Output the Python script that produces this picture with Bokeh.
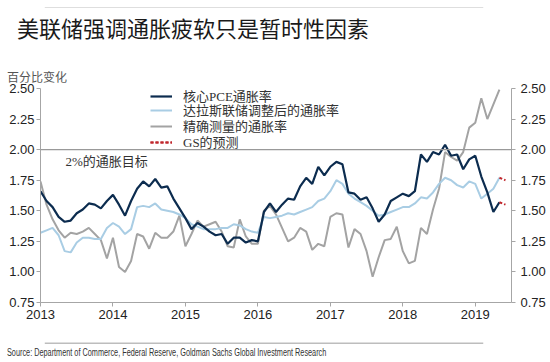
from bokeh.plotting import figure
from bokeh.layouts import column
from bokeh.models import (LinearAxis, FixedTicker, Span, Label, Legend, LegendItem,
                          NumeralTickFormatter, Range1d, Div, BoxAnnotation)
from bokeh.embed import file_html
from bokeh.resources import INLINE

START_YEAR = 2013

title_text = "美联储强调通胀疲软只是暂时性因素"
unit_text = "百分比变化"
target_text = "2%的通胀目标"
source_text = "Source: Department of Commerce, Federal Reserve, Goldman Sachs Global Investment Research"
series_names = ["核心PCE通胀率", "达拉斯联储调整后的通胀率", "精确测量的通胀率", "GS的预测"]

# monthly values, Jan 2013 onwards
core_pce = [1.66, 1.58, 1.53, 1.45, 1.41, 1.42, 1.48, 1.51, 1.56, 1.55, 1.52, 1.58,
            1.63, 1.55, 1.46, 1.58, 1.68, 1.74, 1.70, 1.76, 1.69, 1.70, 1.60, 1.52,
            1.44, 1.35, 1.40, 1.37, 1.33, 1.30, 1.31, 1.23, 1.28, 1.28, 1.24, 1.26,
            1.25, 1.49, 1.56, 1.49, 1.55, 1.60, 1.59, 1.70, 1.77, 1.72, 1.86, 1.79,
            1.86, 1.90, 1.88, 1.65, 1.64, 1.59, 1.61, 1.52, 1.41, 1.47, 1.58, 1.61,
            1.64, 1.62, 1.66, 1.96, 1.90, 1.98, 1.96, 2.04, 1.95, 1.96, 1.84, 1.92,
            1.95, 1.78, 1.65, 1.49, 1.57]
dallas_trimmed = [1.32, 1.34, 1.36, 1.30, 1.17, 1.16, 1.24, 1.28, 1.28, 1.27, 1.27, 1.36,
                  1.40, 1.37, 1.31, 1.35, 1.53, 1.54, 1.53, 1.56, 1.51, 1.50, 1.49, 1.47,
                  1.44, 1.39, 1.37, 1.35, 1.35, 1.35, 1.36, 1.36, 1.39, 1.38, 1.35, 1.33,
                  1.32, 1.45, 1.44, 1.45, 1.46, 1.48, 1.47, 1.49, 1.51, 1.53, 1.58, 1.60,
                  1.66, 1.75, 1.72, 1.64, 1.60, 1.57, 1.54, 1.50, 1.46, 1.47, 1.49, 1.51,
                  1.53, 1.53, 1.56, 1.61, 1.60, 1.65, 1.72, 1.77, 1.75, 1.71, 1.69, 1.74,
                  1.72, 1.60, 1.64, 1.68, 1.77]
precise_measure = [1.74, 1.55, 1.43, 1.34, 1.28, 1.32, 1.31, 1.33, 1.36, 1.31, 1.26, 1.11,
                   1.28, 1.04, 1.00, 1.09, 1.31, 1.29, 1.19, 1.32, 1.28, 1.28, 1.33, 1.46,
                   1.21, 1.31, 1.42, 1.37, 1.39, 1.41, 1.33, 1.21, 1.20, 1.43, 1.29, 1.23,
                   1.23, 1.50, 1.54, 1.47, 1.36, 1.25, 1.28, 1.36, 1.33, 1.18, 1.23, 1.21,
                   1.45, 1.48, 1.47, 1.20, 1.35, 1.31, 1.17, 0.96, 1.12, 1.26, 1.27, 1.37,
                   1.17, 1.07, 1.09, 1.36, 1.31, 1.51, 1.68, 1.98, 1.94, 1.91, 1.98, 2.18,
                   2.22, 2.42, 2.25, 2.37, 2.49]
gs_forecast_core = [1.57, 1.55]
gs_forecast_dallas = [1.77, 1.75]

year_ticks = [2013, 2014, 2015, 2016, 2017, 2018, 2019]
y_ticks = [0.75, 1.00, 1.25, 1.50, 1.75, 2.00, 2.25, 2.50]
target = 2.0

x = [START_YEAR + m / 12 for m in range(len(core_pce))]
fx = [x[-1], START_YEAR + len(core_pce) / 12]

p = figure(width=550, height=248, output_backend="svg", toolbar_location=None,
           x_range=Range1d(2013, 2019.5), y_range=Range1d(0.75, 2.5),
           min_border_left=40, min_border_right=39, min_border_top=6, min_border_bottom=28,
           background_fill_color="white", border_fill_color="white", margin=0)
p.outline_line_color = None
p.grid.visible = False

axis_color = "#a6a6a6"
p.xaxis.ticker = FixedTicker(ticks=year_ticks)
p.yaxis.ticker = FixedTicker(ticks=y_ticks)
p.yaxis.formatter = NumeralTickFormatter(format="0.00")
right = LinearAxis(ticker=FixedTicker(ticks=y_ticks), formatter=NumeralTickFormatter(format="0.00"))
p.add_layout(right, "right")
for ax in [p.xaxis[0], p.yaxis[0], right]:
    ax.axis_line_color = axis_color
    ax.major_tick_line_color = axis_color
    ax.minor_tick_line_color = None
    ax.major_tick_in = 0
    ax.major_tick_out = 4
    ax.major_label_text_font = "Liberation Sans"
    ax.major_label_text_font_size = "13px"
    ax.major_label_text_color = "#222222"
p.xaxis.major_label_standoff = 3
p.yaxis[0].major_label_standoff = 2
right.major_label_standoff = 5

p.add_layout(Span(location=target, dimension="width", line_color="#999999", line_width=1.2))

r_grey = p.line(x, precise_measure, line_color="#a3a3a3", line_width=2)
r_light = p.line(x, dallas_trimmed, line_color="#a9cde4", line_width=2)
r_dark = p.line(x, core_pce, line_color="#0c2c4f", line_width=2.2)
r_f1 = p.line(fx, gs_forecast_core, line_color="#c0272d", line_width=2, line_dash="3 2")
r_f2 = p.line(fx, gs_forecast_dallas, line_color="#c0272d", line_width=2, line_dash="3 2")

mix_font = "Liberation Serif, Noto Sans CJK SC"
legend_rows = [(series_names[0], [r_dark], 197),
               (series_names[1], [r_light], 183),
               (series_names[2], [r_grey], 167),
               (series_names[3], [r_f1, r_f2], 151)]
for label, rs, ypos in legend_rows:
    lg = Legend(items=[LegendItem(label=label, renderers=rs)],
                location=(110, ypos), label_text_font_size="13px", label_text_font=mix_font,
                label_text_color="#333333", glyph_width=22, glyph_height=14, label_height=14,
                label_standoff=11, spacing=0, padding=0, margin=0,
                border_line_color=None, background_fill_alpha=0)
    p.add_layout(lg)

p.add_layout(Label(x=2013.345, y=1.903, text=target_text, text_font=mix_font,
                   text_font_size="13px", text_color="#333333", text_baseline="middle"))


def rule_figure(h, y_from_top):
    f = figure(width=550, height=h, output_backend="svg", toolbar_location=None,
               x_range=Range1d(0, 550), y_range=Range1d(0, h), min_border=0,
               x_axis_location=None, y_axis_location=None, margin=0,
               background_fill_color="white", border_fill_color="white")
    f.outline_line_color = None
    f.grid.visible = False
    f.add_layout(BoxAnnotation(left=5, right=517, top=h - y_from_top,
                               bottom=h - y_from_top - 1.6, fill_color="#bdbdbd",
                               fill_alpha=1, line_color=None))
    return f


top_rule = rule_figure(8, 3)
bottom_rule = rule_figure(16, 12)

head = Div(width=550, height=74, margin=0, text=(
    '<div style="position:relative;width:550px;height:74px;">'
    '<div style="position:absolute;left:17px;top:7px;font-family:\'Noto Sans CJK SC\';'
    'font-size:22px;line-height:24px;color:#1a1a1a;white-space:nowrap;">' + title_text + '</div>'
    '<div style="position:absolute;left:7px;top:62px;font-family:\'Noto Sans CJK SC\';'
    'font-size:12px;line-height:14px;color:#555555;white-space:nowrap;">' + unit_text + '</div>'
    '</div>'))

foot = Div(width=550, height=16, margin=0, text=(
    '<div style="position:relative;width:550px;height:16px;">'
    '<div style="position:absolute;left:7px;top:1px;font-family:\'Liberation Sans\',sans-serif;'
    'font-size:10px;line-height:12px;color:#333333;white-space:nowrap;'
    'transform:scaleX(0.73);transform-origin:0 50%;">' + source_text + '</div>'
    '</div>'))

layout = column(top_rule, head, p, bottom_rule, foot, spacing=0, margin=0)
open("out.html", "w").write(file_html(layout, INLINE))
